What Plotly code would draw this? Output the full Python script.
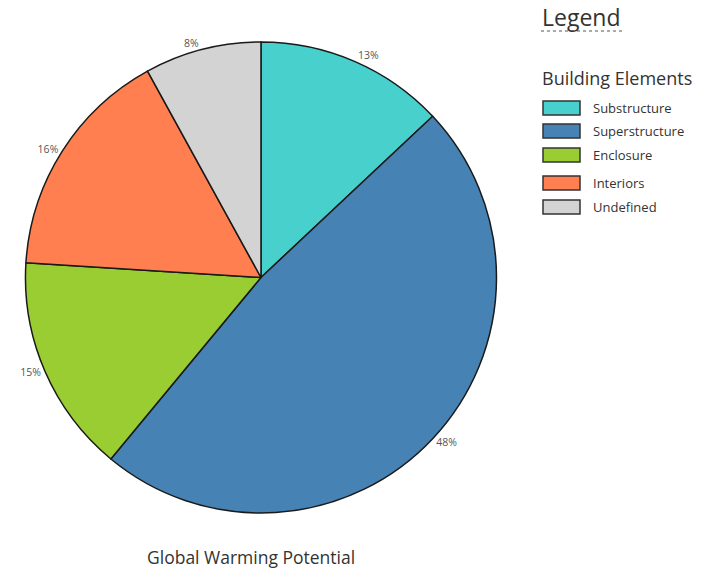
import plotly.graph_objects as go

# Global warming potential share by building element
elements = ["Substructure", "Superstructure", "Enclosure", "Interiors", "Undefined"]
shares = [13, 48, 15, 16, 8]
colors = ["#48D1CC", "#4682B4", "#9ACD32", "#FF7F50", "#D3D3D3"]

FONT = "Open Sans, Noto Sans, sans-serif"

fig = go.Figure(
    go.Pie(
        labels=elements,
        values=shares,
        sort=False,
        direction="clockwise",
        rotation=0,
        marker=dict(colors=colors, line=dict(color="#1a1a1a", width=1.5)),
        textposition="outside",
        textinfo="percent",
        texttemplate="%{percent:.0%}",
        textfont=dict(family=FONT, size=10.5, color="#555555"),
        hoverinfo="label+percent",
        domain=dict(x=[0.0337, 0.6994], y=[0.1078, 0.927]),
        showlegend=False,
    )
)

# Legend drawn as swatches + labels on the right side
shapes = []
annotations = [
    dict(text="Legend", x=540 / 712, y=1 - 17 / 575, xref="paper", yref="paper",
         xanchor="left", yanchor="middle", showarrow=False,
         font=dict(family=FONT, size=23, color="#333333")),
    dict(text="Building Elements", x=540 / 712, y=1 - 78 / 575, xref="paper", yref="paper",
         xanchor="left", yanchor="middle", showarrow=False,
         font=dict(family=FONT, size=18, color="#333333")),
    dict(text="Global Warming Potential", x=251 / 712, y=1 - 557 / 575, xref="paper", yref="paper",
         xanchor="center", yanchor="middle", showarrow=False,
         font=dict(family=FONT, size=17.5, color="#333333")),
]
shapes.append(dict(type="line", xref="paper", yref="paper",
                   x0=541 / 712, x1=622 / 712, y0=1 - 31 / 575, y1=1 - 31 / 575,
                   line=dict(color="#aaaaaa", width=2, dash="dot")))

row_y = [108, 131, 155, 183, 207]
for name, col, ry in zip(elements, colors, row_y):
    shapes.append(dict(type="rect", xref="paper", yref="paper",
                       x0=543 / 712, x1=580 / 712,
                       y0=1 - (ry + 7) / 575, y1=1 - (ry - 7) / 575,
                       fillcolor=col, line=dict(color="#333333", width=1.5)))
    annotations.append(dict(text=name, x=591 / 712, y=1 - ry / 575,
                            xref="paper", yref="paper", xanchor="left", yanchor="middle",
                            showarrow=False,
                            font=dict(family=FONT, size=13, color="#333333")))

fig.update_layout(
    width=712,
    height=575,
    margin=dict(l=0, r=0, t=0, b=0),
    paper_bgcolor="white",
    plot_bgcolor="white",
    shapes=shapes,
    annotations=annotations,
)

fig.write_html("out.html")
